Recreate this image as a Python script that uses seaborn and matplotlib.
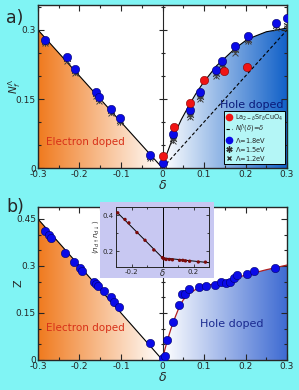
import numpy as np
import matplotlib
matplotlib.use("Agg")
import matplotlib.pyplot as plt
import seaborn as sns
from matplotlib.colors import LinearSegmentedColormap
from matplotlib.patches import Polygon, Rectangle
from matplotlib.lines import Line2D
from matplotlib.ticker import MultipleLocator

# ---- panel a) N_f^Lambda vs doping ----
delta_18 = [-0.282, -0.230, -0.212, -0.160, -0.153, -0.124, -0.103, -0.030,
            0.0, 0.026, 0.066, 0.091, 0.128, 0.144, 0.175, 0.205, 0.273, 0.300]
n_18 = [0.278, 0.241, 0.215, 0.165, 0.154, 0.128, 0.108, 0.028,
        0.012, 0.074, 0.126, 0.165, 0.213, 0.233, 0.265, 0.287, 0.315, 0.325]
n_15 = [0.274, 0.236, 0.210, 0.160, 0.149, 0.123, 0.103, 0.024,
        0.006, 0.064, 0.115, 0.155, 0.204, 0.224, 0.256, 0.279, 0.308, 0.310]
n_12 = [0.272, 0.233, 0.207, 0.157, 0.146, 0.120, 0.100, 0.022,
        0.004, 0.058, 0.110, 0.150, 0.200, 0.219, 0.251, 0.275, 0.304, 0.305]
lsco_d = [0.0, 0.028, 0.066, 0.099, 0.147, 0.203]
lsco_n = [0.026, 0.090, 0.141, 0.191, 0.211, 0.220]

elec_d = [-0.3, 0.0]
elec_n = [0.3, 0.0]
hole_fit_d = [0, 0.01, 0.026, 0.045, 0.065, 0.08, 0.097, 0.13, 0.175, 0.205, 0.25, 0.3]
hole_fit_n = [0, 0.03, 0.068, 0.105, 0.138, 0.161, 0.184, 0.222, 0.260, 0.280, 0.296, 0.304]
diag_d = [0.0, 0.3]
diag_n = [0.0, 0.3]

# ---- panel b) Z vs doping ----
z_d = [-0.284, -0.274, -0.268, -0.234, -0.214, -0.198, -0.193, -0.166, -0.161,
       -0.156, -0.142, -0.124, -0.116, -0.105, -0.030,
       0.0, 0.006, 0.012, 0.026, 0.039, 0.047, 0.055, 0.063, 0.088, 0.104,
       0.126, 0.142, 0.153, 0.162, 0.172, 0.180, 0.204, 0.221, 0.272]
z_v = [0.412, 0.399, 0.390, 0.342, 0.314, 0.295, 0.285, 0.248, 0.243,
       0.236, 0.220, 0.202, 0.186, 0.170, 0.053,
       0.005, 0.013, 0.064, 0.122, 0.176, 0.210, 0.210, 0.226, 0.234, 0.236,
       0.239, 0.250, 0.245, 0.248, 0.261, 0.271, 0.273, 0.284, 0.295]
z_elec_d = [-0.3, 0.0]
z_elec_v = [0.45, 0.0]
z_fit_d = [0, 0.005, 0.012, 0.02, 0.03, 0.04, 0.05, 0.065, 0.08, 0.1, 0.15, 0.2, 0.25, 0.3]
z_fit_v = [0, 0.03, 0.064, 0.098, 0.135, 0.168, 0.192, 0.213, 0.225, 0.235, 0.252, 0.271, 0.288, 0.303]

# ---- inset: double occupancy ----
dd_d = [-0.289, -0.242, -0.217, -0.165, -0.113, -0.056, 0.0, 0.008, 0.023,
        0.044, 0.064, 0.11, 0.131, 0.148, 0.175, 0.231, 0.277]
dd_n = [0.413, 0.376, 0.357, 0.303, 0.260, 0.206, 0.163, 0.157, 0.153,
        0.153, 0.151, 0.148, 0.148, 0.145, 0.143, 0.139, 0.138]
dd_line_d = [-0.3, 0.0, 0.3]
dd_line_n = [0.422, 0.162, 0.135]

BG = "#80F4F4"
ORANGE = LinearSegmentedColormap.from_list("orng", ["#F07A1E", "#FFFFFF"])
BLUE_A = LinearSegmentedColormap.from_list("bla", ["#FFFFFF", "#1060C8"])
BLUE_B = LinearSegmentedColormap.from_list("blb", ["#FFFFFF", "#3D6AD2"])

sns.set_style("ticks")
plt.rcParams["font.family"] = ["DejaVu Sans"]
plt.rcParams["mathtext.fontset"] = "dejavusans"


def gradient_fill(ax, x, y, cmap, ytop):
    # polygon under the curve, filled with a horizontal gradient
    pts = list(zip(x, y)) + [(x[-1], 0), (x[0], 0)]
    poly = Polygon(pts, closed=True, facecolor="none", edgecolor="none")
    ax.add_patch(poly)
    grad = np.linspace(0, 1, 256).reshape(1, -1)
    im = ax.imshow(grad, extent=[min(x), max(x), 0, ytop], aspect="auto",
                   cmap=cmap, origin="lower", zorder=0.5)
    im.set_clip_path(poly)


def style_axes(ax, ymaj, ymin):
    ax.xaxis.set_major_locator(MultipleLocator(0.1))
    ax.xaxis.set_minor_locator(MultipleLocator(0.05))
    ax.yaxis.set_major_locator(MultipleLocator(ymaj))
    ax.yaxis.set_minor_locator(MultipleLocator(ymin))
    ax.tick_params(which="both", direction="in", top=True, right=True,
                   labelsize=6.5, width=0.8, pad=1.5)
    ax.tick_params(which="major", length=4)
    ax.tick_params(which="minor", length=2)
    for s in ax.spines.values():
        s.set_linewidth(1.0)
    mid = ax.secondary_yaxis(0.5)
    mid.yaxis.set_major_locator(MultipleLocator(ymaj))
    mid.yaxis.set_minor_locator(MultipleLocator(ymin))
    mid.tick_params(which="both", direction="inout", labelleft=False, labelright=False,
                    left=True, right=False, width=0.8)
    mid.tick_params(which="major", length=6)
    mid.tick_params(which="minor", length=3)
    mid.spines["left"].set_linewidth(1.0)
    mid.set_ylabel("")


fig = plt.figure(figsize=(2.99, 3.90), dpi=100, facecolor=BG)

# ------------------------- panel a -------------------------
ax1 = fig.add_axes([0.127, 0.569, 0.833, 0.418])
ytop_a = 0.354
gradient_fill(ax1, elec_d, elec_n, ORANGE, ytop_a)
gradient_fill(ax1, hole_fit_d, hole_fit_n, BLUE_A, ytop_a)
sns.lineplot(x=elec_d, y=elec_n, color="black", lw=0.8, ax=ax1, zorder=2)
sns.lineplot(x=hole_fit_d, y=hole_fit_n, color="black", lw=0.8, ax=ax1, zorder=2)
ax1.plot(diag_d, diag_n, color="black", lw=0.8, ls=(0, (3, 2)), zorder=2)
sns.scatterplot(x=delta_18, y=n_12, marker="x", color="#404040", s=18,
                linewidth=0.7, ax=ax1, zorder=3)
sns.scatterplot(x=delta_18, y=n_15, marker=(6, 2, 0), color="#404040", s=28,
                linewidth=0.6, ax=ax1, zorder=3)
sns.scatterplot(x=delta_18, y=n_18, color="#0A0AE8", s=36, edgecolor="#00006A",
                linewidth=0.4, ax=ax1, zorder=4)
sns.scatterplot(x=lsco_d, y=lsco_n, color="#F01414", s=36, edgecolor="#800000",
                linewidth=0.4, ax=ax1, zorder=5)
ax1.set_xlim(-0.3, 0.3)
ax1.set_ylim(0, ytop_a)
style_axes(ax1, 0.15, 0.05)
ax1.set_yticks([0, 0.15, 0.3])
ax1.set_yticklabels(["0", "0.15", "0.3"])
ax1.set_xticks([-0.3, -0.2, -0.1, 0, 0.1, 0.2, 0.3])
ax1.set_xticklabels(["-0.3", "-0.2", "-0.1", "0", "0.1", "0.2", "0.3"])
ax1.set_xlabel(r"$\delta$", fontsize=9, labelpad=0)
ax1.set_ylabel(r"$N_f^{\Lambda}$", fontsize=7.5)
ax1.yaxis.set_label_coords(-0.06, 0.5)
ax1.text(0.19, 0.16, "Electron doped", color="#D83018", fontsize=7.5,
         ha="center", va="center", transform=ax1.transAxes)
ax1.text(0.86, 0.385, "Hole doped", color="#0A1A7A", fontsize=8,
         ha="center", va="center", transform=ax1.transAxes)

handles = [
    Line2D([], [], marker="o", ls="none", color="#F01414", markersize=4.5),
    Line2D([], [], ls=(0, (3, 2)), color="black", lw=0.8),
    Line2D([], [], marker="o", ls="none", color="#0A0AE8", markersize=4.5),
    Line2D([], [], marker=(6, 2, 0), ls="none", color="#303030", markersize=4.5),
    Line2D([], [], marker="x", ls="none", color="#303030", markersize=3.5),
]
labels = [r"La$_{2-\delta}$Sr$_{\delta}$CuO$_4$", r"$N_f^{\Lambda}(\delta)$=$\delta$",
          r"$\Lambda$=1.8eV", r"$\Lambda$=1.5eV", r"$\Lambda$=1.2eV"]
leg = ax1.legend(handles, labels, loc="lower right", bbox_to_anchor=(0.993, 0.02),
                 fontsize=4.8, frameon=True, fancybox=False, framealpha=1,
                 facecolor="#B4F6F6", edgecolor="black", handlelength=1.0,
                 handletextpad=0.4, borderpad=0.2, labelspacing=0.0,
                 borderaxespad=0.1)
leg.get_frame().set_linewidth(0.7)
leg.set_zorder(10)

# ------------------------- panel b -------------------------
ax2 = fig.add_axes([0.127, 0.077, 0.833, 0.392])
ytop_b = 0.488
gradient_fill(ax2, z_elec_d, z_elec_v, ORANGE, ytop_b)
gradient_fill(ax2, z_fit_d, z_fit_v, BLUE_B, ytop_b)
sns.lineplot(x=z_elec_d, y=z_elec_v, color="black", lw=0.8, ax=ax2, zorder=2)
sns.lineplot(x=z_fit_d, y=z_fit_v, color="#B02020", lw=0.9, ax=ax2, zorder=2)
sns.scatterplot(x=z_d, y=z_v, color="#0A0AE8", s=36, edgecolor="#00006A",
                linewidth=0.4, ax=ax2, zorder=4)
ax2.set_xlim(-0.3, 0.3)
ax2.set_ylim(0, ytop_b)
style_axes(ax2, 0.15, 0.05)
ax2.set_yticks([0, 0.15, 0.3, 0.45])
ax2.set_yticklabels(["0", "0.15", "0.3", "0.45"])
ax2.set_xticks([-0.3, -0.2, -0.1, 0, 0.1, 0.2, 0.3])
ax2.set_xticklabels(["-0.3", "-0.2", "-0.1", "0", "0.1", "0.2", "0.3"])
ax2.set_xlabel(r"$\delta$", fontsize=9, labelpad=0)
ax2.set_ylabel("Z", fontsize=8)
ax2.yaxis.set_label_coords(-0.06, 0.5)
ax2.text(0.19, 0.21, "Electron doped", color="#D83018", fontsize=7.5,
         ha="center", va="center", transform=ax2.transAxes)
ax2.text(0.78, 0.235, "Hole doped", color="#1A2A90", fontsize=8,
         ha="center", va="center", transform=ax2.transAxes)

# lavender backdrop of the inset
fig.patches.append(Rectangle((0.334, 0.287), 0.381, 0.195, transform=fig.transFigure,
                             facecolor="#C8C8F2", edgecolor="none", zorder=1))

# ------------------------- inset -------------------------
axi = fig.add_axes([0.388, 0.315, 0.311, 0.154])
axi.set_zorder(3)
axi.set_facecolor("#C8C8F2")
sns.lineplot(x=dd_line_d, y=dd_line_n, color="black", lw=0.7, ax=axi, zorder=2)
sns.scatterplot(x=dd_d, y=dd_n, color="#7A0A0A", s=6, edgecolor="none", ax=axi, zorder=3)
axi.set_xlim(-0.3, 0.3)
axi.set_ylim(0.11, 0.445)
axi.set_xticks([-0.2, 0.2])
axi.set_xticklabels(["-0.2", "0.2"])
axi.xaxis.set_minor_locator(MultipleLocator(0.1))
axi.set_yticks([0.2, 0.4])
axi.set_yticklabels(["0.2", "0.4"])
axi.yaxis.set_minor_locator(MultipleLocator(0.1))
axi.tick_params(which="both", direction="in", top=True, right=True,
                labelsize=5, width=0.6, pad=1.5)
axi.tick_params(which="major", length=2.5)
axi.tick_params(which="minor", length=1.5)
for s in axi.spines.values():
    s.set_linewidth(0.7)
axi.axvline(0, color="black", lw=0.7, zorder=1)
axi.set_xlabel(r"$\delta$", fontsize=6, labelpad=-6)
axi.set_ylabel(r"$\langle n_{d\uparrow}n_{d\downarrow}\rangle$", fontsize=5, labelpad=1)

fig.text(0.02, 0.978, "a)", fontsize=12.5, ha="left", va="top")
fig.text(0.02, 0.492, "b)", fontsize=12.5, ha="left", va="top")

fig.savefig("out.png", dpi=100, facecolor=BG)
